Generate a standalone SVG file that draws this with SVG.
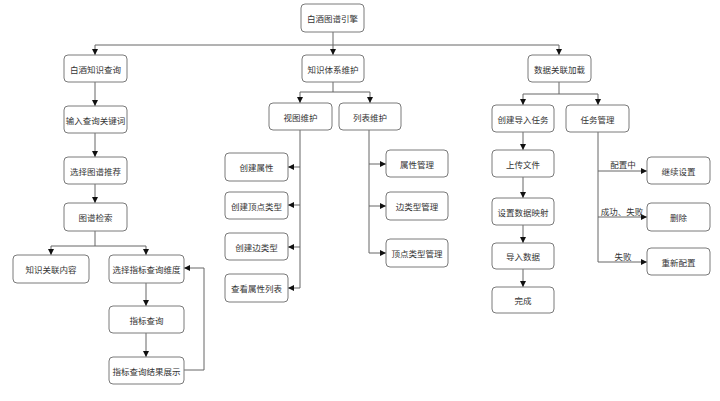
<svg xmlns="http://www.w3.org/2000/svg" width="720" height="401" viewBox="0 0 720 401">
<style>
.n rect{fill:#fff;stroke:#7a7a7a;stroke-width:1}
.n text,.lb{font-family:"Noto Sans CJK SC","Noto Sans",sans-serif;font-size:8.5px;fill:#333;text-anchor:middle;dominant-baseline:central}
.c path{fill:none;stroke:#666;stroke-width:1}
.a{marker-end:url(#ah)}
</style>
<defs>
<marker id="ah" markerWidth="6" markerHeight="6" refX="6" refY="3" orient="auto" markerUnits="userSpaceOnUse">
<path d="M0,0 L6,3 L0,6 Z" fill="#111"/>
</marker>
</defs>
<rect width="720" height="401" fill="#fff"/>
<g class="c">
<path d="M333,32 V45"/>
<path d="M95,45 H559"/>
<path class="a" d="M95,45 V55"/>
<path class="a" d="M333,45 V55"/>
<path class="a" d="M559,45 V55"/>
<path class="a" d="M95,82 V106"/>
<path class="a" d="M95,133 V157"/>
<path class="a" d="M95,184 V203"/>
<path d="M95,231 V246"/>
<path class="a" d="M95,246 H51 V255"/>
<path class="a" d="M95,246 H146 V255"/>
<path class="a" d="M146,283 V306"/>
<path class="a" d="M146,333 V357"/>
<path class="a" d="M184,370 H204 V268 H184"/>
<path d="M333,82 V92"/>
<path class="a" d="M333,92 H300 V103"/>
<path class="a" d="M333,92 H370 V103"/>
<path d="M300,130 V288"/>
<path class="a" d="M300,167 H288"/>
<path class="a" d="M300,205 H288"/>
<path class="a" d="M300,247 H288"/>
<path class="a" d="M300,288 H288"/>
<path d="M369,130 V253"/>
<path class="a" d="M369,164 H386"/>
<path class="a" d="M369,206 H386"/>
<path class="a" d="M369,253 H386"/>
<path d="M559,82 V94"/>
<path class="a" d="M559,94 H523 V105"/>
<path class="a" d="M559,94 H598 V105"/>
<path class="a" d="M523,132 V150"/>
<path class="a" d="M523,177 V198"/>
<path class="a" d="M523,225 V243"/>
<path class="a" d="M523,269 V287"/>
<path d="M598,132 V262"/>
<path class="a" d="M598,171 H647"/>
<path class="a" d="M598,217 H647"/>
<path class="a" d="M598,262 H647"/>
<text class="lb" x="623" y="164">配置中</text>
<text class="lb" x="622" y="211">成功、失败</text>
<text class="lb" x="623" y="256">失败</text>
</g>
<g class="n" id="root"><rect x="301" y="4" width="63" height="28" rx="4"/><text x="332.5" y="18">白酒图谱引擎</text></g>
<g class="n" id="q"><rect x="64" y="55" width="63" height="27" rx="4"/><text x="95.5" y="68.5">白酒知识查询</text></g>
<g class="n" id="k"><rect x="302" y="55" width="62" height="27" rx="4"/><text x="333" y="68.5">知识体系维护</text></g>
<g class="n" id="d"><rect x="528" y="55" width="63" height="27" rx="4"/><text x="559.5" y="68.5">数据关联加载</text></g>
<g class="n" id="q1"><rect x="64" y="106" width="63" height="27" rx="4"/><text x="95.5" y="119.5">输入查询关键词</text></g>
<g class="n" id="q2"><rect x="64" y="157" width="63" height="27" rx="4"/><text x="95.5" y="170.5">选择图谱推荐</text></g>
<g class="n" id="q3"><rect x="64" y="203" width="63" height="28" rx="4"/><text x="95.5" y="217">图谱检索</text></g>
<g class="n" id="q4"><rect x="13" y="255" width="76" height="28" rx="4"/><text x="51" y="269">知识关联内容</text></g>
<g class="n" id="q5"><rect x="109" y="255" width="75" height="28" rx="4"/><text x="146.5" y="269">选择指标查询维度</text></g>
<g class="n" id="q6"><rect x="109" y="306" width="75" height="27" rx="4"/><text x="146.5" y="319.5">指标查询</text></g>
<g class="n" id="q7"><rect x="109" y="357" width="75" height="27" rx="4"/><text x="146.5" y="370.5">指标查询结果展示</text></g>
<g class="n" id="v"><rect x="269" y="103" width="63" height="27" rx="4"/><text x="300.5" y="116.5">视图维护</text></g>
<g class="n" id="l"><rect x="339" y="103" width="62" height="27" rx="4"/><text x="370" y="116.5">列表维护</text></g>
<g class="n" id="v1"><rect x="225" y="153" width="63" height="28" rx="4"/><text x="256.5" y="167">创建属性</text></g>
<g class="n" id="v2"><rect x="225" y="192" width="63" height="27" rx="4"/><text x="256.5" y="205.5">创建顶点类型</text></g>
<g class="n" id="v3"><rect x="225" y="233" width="63" height="27" rx="4"/><text x="256.5" y="246.5">创建边类型</text></g>
<g class="n" id="v4"><rect x="225" y="274" width="63" height="28" rx="4"/><text x="256.5" y="288">查看属性列表</text></g>
<g class="n" id="l1"><rect x="386" y="150" width="62" height="27" rx="4"/><text x="417" y="163.5">属性管理</text></g>
<g class="n" id="l2"><rect x="386" y="192" width="62" height="28" rx="4"/><text x="417" y="206">边类型管理</text></g>
<g class="n" id="l3"><rect x="386" y="239" width="62" height="28" rx="4"/><text x="417" y="253">顶点类型管理</text></g>
<g class="n" id="d1"><rect x="492" y="105" width="62" height="27" rx="4"/><text x="523" y="118.5">创建导入任务</text></g>
<g class="n" id="d2"><rect x="566" y="105" width="63" height="27" rx="4"/><text x="597.5" y="118.5">任务管理</text></g>
<g class="n" id="d3"><rect x="492" y="150" width="62" height="27" rx="4"/><text x="523" y="163.5">上传文件</text></g>
<g class="n" id="d4"><rect x="492" y="198" width="62" height="27" rx="4"/><text x="523" y="211.5">设置数据映射</text></g>
<g class="n" id="d5"><rect x="492" y="243" width="62" height="26" rx="4"/><text x="523" y="256">导入数据</text></g>
<g class="n" id="d6"><rect x="492" y="287" width="62" height="26" rx="4"/><text x="523" y="300">完成</text></g>
<g class="n" id="t1"><rect x="647" y="157" width="63" height="27" rx="4"/><text x="678.5" y="170.5">继续设置</text></g>
<g class="n" id="t2"><rect x="647" y="203" width="63" height="28" rx="4"/><text x="678.5" y="217">删除</text></g>
<g class="n" id="t3"><rect x="647" y="248" width="63" height="27" rx="4"/><text x="678.5" y="261.5">重新配置</text></g>
</svg>
